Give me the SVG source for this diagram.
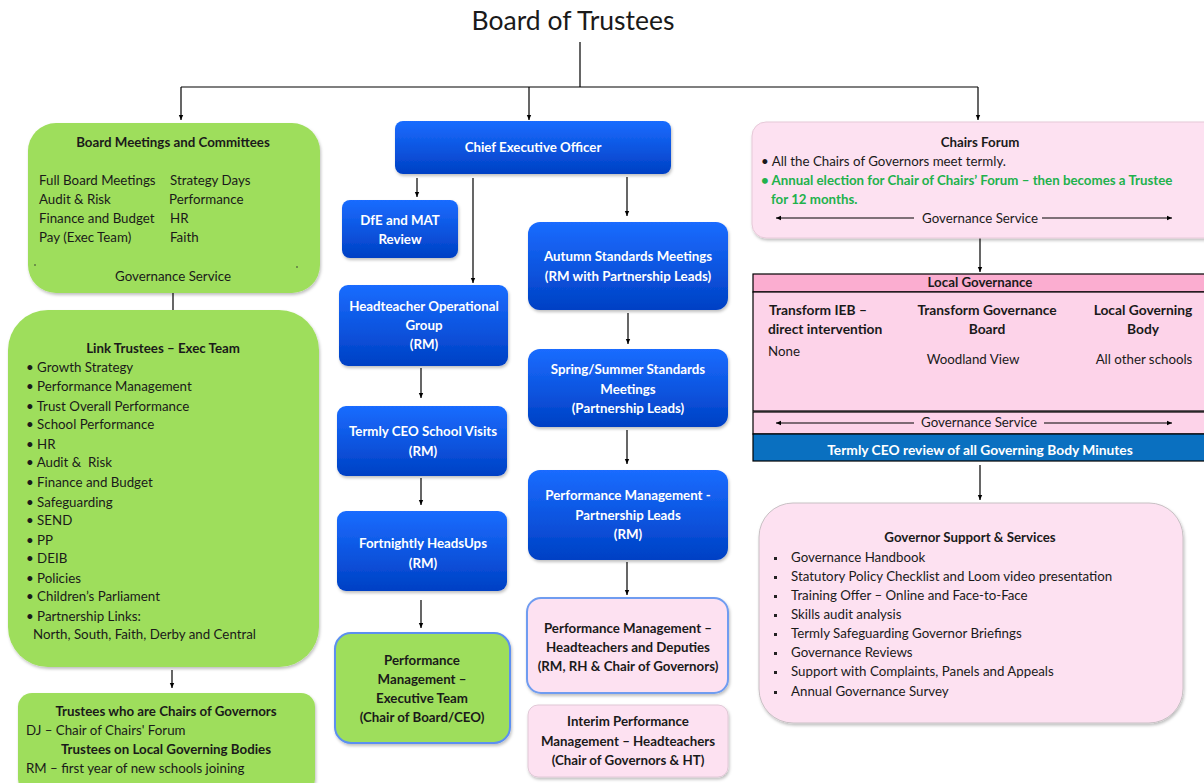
<svg xmlns="http://www.w3.org/2000/svg" width="1204" height="783" viewBox="0 0 1204 783">
<defs>
<linearGradient id="blueG" x1="0" y1="0" x2="0" y2="1">
<stop offset="0" stop-color="#1a6cff"/>
<stop offset="1" stop-color="#0040c4"/>
</linearGradient>
<marker id="ah" markerWidth="6" markerHeight="6" refX="5" refY="3" orient="auto" markerUnits="userSpaceOnUse">
<path d="M0,0.8 L5,3 L0,5.2 z" fill="#000"/>
</marker>
<filter id="sh" x="-10%" y="-10%" width="120%" height="130%">
<feDropShadow dx="1" dy="2" stdDeviation="1.5" flood-color="#000" flood-opacity="0.25"/>
</filter>
</defs>
<style>
text{font-family:Lato,"Liberation Sans",sans-serif;font-size:13.3px;fill:#1a1a1a}
.b{font-weight:bold}
.w{fill:#fff;font-weight:bold}
.m{text-anchor:middle}
.g{fill:#22b14c;font-weight:bold}
.green{fill:#9ede5c}
.blue{fill:url(#blueG)}
.pink{fill:#fde1f1}
.ln{stroke:#000;stroke-width:1.2;fill:none}
.ar{stroke:#000;stroke-width:1.2;fill:none;marker-end:url(#ah)}
</style>
<rect width="1204" height="783" fill="#fff"/>
<text x="573" y="30" class="m" style="font-size:26.5px">Board of Trustees</text>

<g id="connectors">
<path class="ln" d="M580,42 V87 M181,87 H978"/>
<path class="ar" d="M181,87 V120"/>
<path class="ar" d="M529,87 V120"/>
<path class="ar" d="M978,87 V120"/>
<path class="ar" d="M173,293 V328"/>
<path class="ar" d="M172,670 V688"/>
<path class="ar" d="M417,178 V197"/>
<path class="ar" d="M473,178 V283"/>
<path class="ar" d="M421,368 V398"/>
<path class="ar" d="M421,478 V505"/>
<path class="ar" d="M421,600 V628"/>
<path class="ar" d="M627,177 V216"/>
<path class="ar" d="M628,313 V344"/>
<path class="ar" d="M627,430 V464"/>
<path class="ar" d="M627,562 V595"/>
<path class="ar" d="M980,238 V272"/>
<path class="ar" d="M980,465 V500"/>
</g>

<g id="board-meetings">
<rect x="28" y="123" width="292" height="170" rx="28" class="green" filter="url(#sh)"/>
<text x="173" y="147" class="b m">Board Meetings and Committees</text>
<text x="39" y="185">Full Board Meetings</text>
<text x="39" y="204">Audit &amp; Risk</text>
<text x="39" y="223">Finance and Budget</text>
<text x="39" y="242">Pay (Exec Team)</text>
<text x="170" y="185">Strategy Days</text>
<text x="169" y="204">Performance</text>
<text x="170" y="223">HR</text>
<text x="170" y="242">Faith</text>
<circle cx="35" cy="265" r="0.8" fill="#333"/>
<circle cx="297" cy="267" r="0.8" fill="#333"/>
<text x="173" y="281" class="m">Governance Service</text>
</g>

<g id="link-trustees">
<rect x="8" y="310" width="311" height="357" rx="40" class="green" filter="url(#sh)"/>
<text x="163" y="353" class="b m">Link Trustees – Exec Team</text>
<g>
<text x="26" y="372">• Growth Strategy</text>
<text x="26" y="391">• Performance Management</text>
<text x="26" y="411">• Trust Overall Performance</text>
<text x="26" y="429">• School Performance</text>
<text x="26" y="449">• HR</text>
<text x="26" y="467">• Audit &amp;&#160; Risk</text>
<text x="26" y="487">• Finance and Budget</text>
<text x="26" y="507">• Safeguarding</text>
<text x="26" y="525">• SEND</text>
<text x="26" y="545">• PP</text>
<text x="26" y="563">• DEIB</text>
<text x="26" y="583">• Policies</text>
<text x="26" y="601">• Children’s Parliament</text>
<text x="26" y="621">• Partnership Links:</text>
<text x="33" y="639">North, South, Faith, Derby and Central</text>
</g>
</g>

<g id="trustees-chairs">
<rect x="18" y="693" width="297" height="100" rx="14" class="green" filter="url(#sh)"/>
<text x="166" y="716" class="b m">Trustees who are Chairs of Governors</text>
<text x="26" y="735">DJ – Chair of Chairs' Forum</text>
<text x="166" y="754" class="b m">Trustees on Local Governing Bodies</text>
<text x="26" y="773">RM – first year of new schools joining</text>
</g>

<g id="ceo">
<rect x="395" y="121" width="276" height="53" rx="8" class="blue" filter="url(#sh)"/>
<text x="533" y="152" class="w m">Chief Executive Officer</text>
</g>

<g id="dfe">
<rect x="342" y="200" width="116" height="58" rx="8" class="blue" filter="url(#sh)"/>
<text x="400" y="225" class="w m">DfE and MAT</text>
<text x="400" y="244" class="w m">Review</text>
</g>

<g id="hog">
<rect x="339" y="285" width="169" height="81" rx="9" class="blue" filter="url(#sh)"/>
<text x="424" y="311" class="w m">Headteacher Operational</text>
<text x="424" y="330" class="w m">Group</text>
<text x="424" y="349" class="w m">(RM)</text>
</g>

<g id="termly-visits">
<rect x="337" y="406" width="170" height="70" rx="9" class="blue" filter="url(#sh)"/>
<text x="423" y="436" class="w m">Termly CEO School Visits</text>
<text x="423" y="456" class="w m">(RM)</text>
</g>

<g id="headsups">
<rect x="337" y="511" width="170" height="80" rx="9" class="blue" filter="url(#sh)"/>
<text x="423" y="548" class="w m">Fortnightly HeadsUps</text>
<text x="423" y="568" class="w m">(RM)</text>
</g>

<g id="pm-exec">
<rect x="335" y="633" width="175" height="110" rx="16" class="green" stroke="#5b8ff0" stroke-width="2" filter="url(#sh)"/>
<text x="422" y="665" class="b m">Performance</text>
<text x="422" y="684" class="b m">Management –</text>
<text x="422" y="703" class="b m">Executive Team</text>
<text x="422" y="722" class="b m">(Chair of Board/CEO)</text>
</g>

<g id="autumn">
<rect x="528" y="222" width="200" height="88" rx="12" class="blue" filter="url(#sh)"/>
<text x="628" y="261" class="w m">Autumn Standards Meetings</text>
<text x="628" y="281" class="w m">(RM with Partnership Leads)</text>
</g>

<g id="spring">
<rect x="528" y="349" width="200" height="78" rx="12" class="blue" filter="url(#sh)"/>
<text x="628" y="374" class="w m">Spring/Summer Standards</text>
<text x="628" y="394" class="w m">Meetings</text>
<text x="628" y="413" class="w m">(Partnership Leads)</text>
</g>

<g id="pm-partnership">
<rect x="528" y="470" width="200" height="90" rx="12" class="blue" filter="url(#sh)"/>
<text x="628" y="500" class="w m">Performance Management -</text>
<text x="628" y="520" class="w m">Partnership Leads</text>
<text x="628" y="539" class="w m">(RM)</text>
</g>

<g id="pm-heads">
<rect x="527" y="598" width="201" height="95" rx="14" class="pink" stroke="#6f9cf0" stroke-width="2" filter="url(#sh)"/>
<text x="628" y="633" class="b m">Performance Management –</text>
<text x="628" y="652" class="b m">Headteachers and Deputies</text>
<text x="628" y="671" class="b m">(RM, RH &amp; Chair of Governors)</text>
</g>

<g id="interim">
<rect x="528" y="705" width="200" height="72" rx="10" class="pink" stroke="#e0c8d6" stroke-width="1" filter="url(#sh)"/>
<text x="628" y="726" class="b m">Interim Performance</text>
<text x="628" y="746" class="b m">Management – Headteachers</text>
<text x="628" y="765" class="b m">(Chair of Governors &amp; HT)</text>
</g>

<g id="chairs-forum">
<rect x="752" y="122" width="470" height="116" rx="14" class="pink" stroke="#e6c9d8" stroke-width="1" filter="url(#sh)"/>
<text x="980" y="147" class="b m">Chairs Forum</text>
<text x="761" y="166">• All the Chairs of Governors meet termly.</text>
<text x="761" y="185" class="g">• Annual election for Chair of Chairs’ Forum – then becomes a Trustee</text>
<text x="771" y="204" class="g">for 12 months.</text>
<path class="ar" d="M914,218 H776"/>
<path class="ar" d="M1042,218 H1172"/>
<text x="980" y="223" class="m">Governance Service</text>
</g>

<g id="local-governance">
<rect x="753" y="274" width="460" height="18" fill="#fbadd0" stroke="#000" stroke-width="1.2"/>
<text x="980" y="287" class="b m">Local Governance</text>
<rect x="753" y="292" width="460" height="119" fill="#fdd3e9" stroke="#000" stroke-width="1.2"/>
<text x="769" y="315" class="b" style="font-size:13.8px">Transform IEB –</text>
<text x="768" y="334" class="b" style="font-size:13.8px">direct intervention</text>
<text x="768" y="356">None</text>
<text x="987" y="315" class="b m" style="font-size:13.8px">Transform Governance</text>
<text x="987" y="334" class="b m" style="font-size:13.8px">Board</text>
<text x="973" y="364" class="m">Woodland View</text>
<text x="1143" y="315" class="b m" style="font-size:13.8px">Local Governing</text>
<text x="1143" y="334" class="b m" style="font-size:13.8px">Body</text>
<text x="1144" y="364" class="m">All other schools</text>
<rect x="753" y="412" width="460" height="22" fill="#fdd3e9" stroke="#000" stroke-width="1.2"/>
<path class="ar" d="M914,423 H776"/>
<path class="ar" d="M1044,423 H1172"/>
<text x="979" y="427" class="m">Governance Service</text>
<rect x="753" y="434" width="460" height="27" fill="#0a70c0" stroke="#000" stroke-width="1.2"/>
<text x="980" y="455" class="w m" style="font-size:13.8px">Termly CEO review of all Governing Body Minutes</text>
</g>

<g id="governor-support">
<rect x="759" y="503" width="424" height="220" rx="34" class="pink" stroke="#c8c0c4" stroke-width="1" filter="url(#sh)"/>
<text x="970" y="542" class="b m">Governor Support &amp; Services</text>
<g>
<rect x="774" y="557" width="3" height="3" fill="#222"/><text x="791" y="562">Governance Handbook</text>
<rect x="774" y="576" width="3" height="3" fill="#222"/><text x="791" y="581">Statutory Policy Checklist and Loom video presentation</text>
<rect x="774" y="595" width="3" height="3" fill="#222"/><text x="791" y="600">Training Offer – Online and Face-to-Face</text>
<rect x="774" y="614" width="3" height="3" fill="#222"/><text x="791" y="619">Skills audit analysis</text>
<rect x="774" y="633" width="3" height="3" fill="#222"/><text x="791" y="638">Termly Safeguarding Governor Briefings</text>
<rect x="774" y="652" width="3" height="3" fill="#222"/><text x="791" y="657">Governance Reviews</text>
<rect x="774" y="671" width="3" height="3" fill="#222"/><text x="791" y="676">Support with Complaints, Panels and Appeals</text>
<rect x="774" y="691" width="3" height="3" fill="#222"/><text x="791" y="696">Annual Governance Survey</text>
</g>
</g>
</svg>
